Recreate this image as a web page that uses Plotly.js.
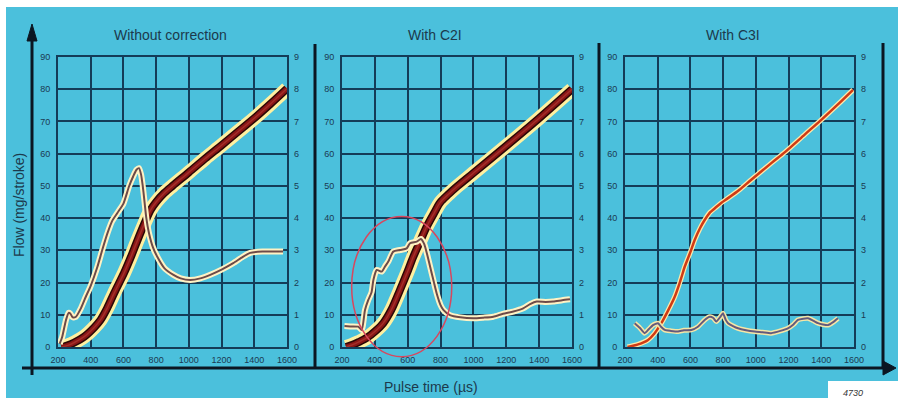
<!DOCTYPE html>
<html><head><meta charset="utf-8">
<script src="https://cdn.plot.ly/plotly-3.0.1.min.js"></script>
<style>html,body{margin:0;padding:0;background:#fff;}#chart{width:898px;height:402px;}</style>
</head><body><div id="chart"></div>
<script>
// ---- data ----
const panelTitles = ["Without correction", "With C2I", "With C3I"];
const xTicks = [200, 400, 600, 800, 1000, 1200, 1400, 1600];
const yLeftTicks = [0, 10, 20, 30, 40, 50, 60, 70, 80, 90];
const yRightTicks = [0, 1, 2, 3, 4, 5, 6, 7, 8, 9];

// Flow (mg/stroke), left axis
const flow1_t = [220,260,300,360,420,460,500,543,604,650,685,730,766,800,850,900,1000,1100,1200,1300,1400,1500,1600];
const flow1_v = [0,0.5,1.4,3.2,6,8.4,12,16.7,23,28.5,33,38.5,42.5,45,47.8,50,54.2,58.5,62.6,66.8,71,75.5,80.2];
const flow2_t = [225,260,300,350,400,451,500,553,600,634,680,716,760,797,850,900,1000,1200,1400,1600];
const flow2_v = [0,0.6,1.5,2.8,4.8,7.4,11.5,17.7,23.5,28,33.3,37.4,41.5,44.8,47.5,49.8,54,62.4,71,80];
const flow3_t = [215,280,341,380,422,460,504,540,565,600,626,660,687,720,748,790,830,900,972,1100,1176,1300,1400,1500,1594];
const flow3_v = [0,0.8,2.2,4.2,7.4,11,15.6,20.8,24.9,29.5,33.2,37,39.4,41.8,43,44.8,46.2,48.8,51.9,57.3,60.4,66,70.5,75.2,79.8];

// Dispersion, right axis (0..9)
const disp1_t = [210,225,249,265,275,290,310,340,370,400,441,470,503,530,563,600,634,660,680,695,708,718,727,740,756,780,807,850,906,950,1009,1070,1131,1200,1271,1330,1375,1450,1576];
const disp1_v = [0.1,0.3,0.84,1.06,1.04,0.92,0.94,1.2,1.56,1.9,2.49,3.0,3.54,3.9,4.16,4.45,4.98,5.3,5.5,5.55,5.35,5.0,4.6,4.0,3.54,3.1,2.8,2.45,2.24,2.13,2.08,2.13,2.24,2.4,2.6,2.8,2.92,2.96,2.96];
const disp2_t = [215,250,299,320,340,360,380,391,411,442,462,482,512,553,594,614,655,680,700,716,746,776,800,817,857,920,999,1060,1121,1180,1243,1303,1345,1385,1440,1486,1540,1588];
const disp2_v = [0.65,0.64,0.63,0.53,1.15,1.46,1.7,2.08,2.39,2.34,2.5,2.65,2.96,3.01,3.06,3.22,3.27,3.35,3.2,2.92,2.29,1.67,1.3,1.15,0.99,0.92,0.89,0.91,0.94,1.03,1.1,1.2,1.33,1.41,1.4,1.41,1.45,1.48];
const disp3_t = [259,290,320,345,371,402,420,443,480,524,560,605,646,687,718,740,758,785,799,815,830,860,891,940,993,1040,1094,1150,1196,1230,1257,1290,1319,1350,1380,1410,1441,1475,1502];
const disp3_v = [0.74,0.6,0.43,0.55,0.68,0.74,0.63,0.53,0.5,0.48,0.52,0.53,0.63,0.84,0.94,0.9,0.79,0.95,1.05,0.85,0.74,0.65,0.58,0.52,0.48,0.46,0.43,0.5,0.58,0.7,0.84,0.88,0.89,0.82,0.74,0.7,0.68,0.78,0.89];

// highlighted region in panel 2 (pulse time range, flow range)
const ellipseT = [259, 868];
const ellipseF = [-3, 40.5];

// ---- layout helpers ----
const W = 898, H = 402;
const PX = x => x / W, PY = y => 1 - y / H;
const xDom = [[58, 287], [342, 572], [625, 854]];
const yDom = [PY(347), PY(57)];
const gridC = '#143c58';
const tickFont = {family: 'Liberation Sans, Arial, sans-serif', size: 9, color: '#1b3a52'};
const titleFont = {family: 'Liberation Sans, Arial, sans-serif', size: 14, color: '#1c3a4c'};

const layout = {
  width: W, height: H, margin: {l: 0, r: 0, t: 0, b: 0},
  paper_bgcolor: '#ffffff', plot_bgcolor: 'rgba(0,0,0,0)',
  showlegend: false, shapes: [], annotations: []
};

// background panel
layout.shapes.push({type: 'rect', xref: 'paper', yref: 'paper', x0: PX(6), x1: 1, y0: PY(398), y1: PY(7),
  fillcolor: '#4bc0dc', line: {width: 0}, layer: 'below'});

for (let i = 0; i < 3; i++) {
  const xn = i === 0 ? 'xaxis' : 'xaxis' + (i + 1);
  const xid = i === 0 ? 'x' : 'x' + (i + 1);
  const yl = 2 * i + 1, yr = 2 * i + 2;
  const ylId = yl === 1 ? 'y' : 'y' + yl;
  const ylName = yl === 1 ? 'yaxis' : 'yaxis' + yl;
  layout[xn] = {domain: [PX(xDom[i][0]), PX(xDom[i][1])], range: [200, 1600], anchor: ylId,
    tickvals: xTicks, ticktext: xTicks.map(String), showgrid: true, gridcolor: gridC, gridwidth: 2,
    showline: true, mirror: true, linecolor: gridC, linewidth: 2, zeroline: false, ticks: '',
    tickfont: tickFont, ticklabelstandoff: 3, fixedrange: true};
  layout[ylName] = {domain: yDom, range: [0, 90], anchor: xid, tickvals: yLeftTicks,
    showgrid: true, gridcolor: gridC, gridwidth: 2, zeroline: false, ticks: '',
    showline: true, mirror: true, linecolor: gridC, linewidth: 2,
    tickfont: tickFont, ticklabelstandoff: 4, fixedrange: true};
  layout['yaxis' + yr] = {overlaying: ylId, side: 'right', anchor: xid, range: [0, 9], tickvals: yRightTicks,
    showgrid: false, zeroline: false, ticks: '', showline: false,
    tickfont: tickFont, ticklabelstandoff: 6, fixedrange: true};
  layout.annotations.push({text: panelTitles[i], xref: 'paper', yref: 'paper',
    x: PX([170, 435, 733][i]), y: PY(35), xanchor: 'center', yanchor: 'middle', showarrow: false,
    font: titleFont});
}

// axis titles
layout.annotations.push({text: 'Flow (mg/stroke)', xref: 'paper', yref: 'paper', x: PX(19), y: PY(205),
  xanchor: 'center', yanchor: 'middle', textangle: -90, showarrow: false, font: titleFont});
layout.annotations.push({text: 'Pulse time (µs)', xref: 'paper', yref: 'paper', x: PX(431), y: PY(387),
  xanchor: 'center', yanchor: 'middle', showarrow: false, font: titleFont});

// frame lines & arrows
const dark = '#0b1622';
const seg = (x0, y0, x1, y1, w) => ({type: 'line', xref: 'paper', yref: 'paper', x0: PX(x0), y0: PY(y0), x1: PX(x1), y1: PY(y1), line: {color: dark, width: w}});
layout.shapes.push(seg(32, 375, 32, 36, 3));
layout.shapes.push(seg(22, 368, 886, 368, 3));
layout.shapes.push(seg(315, 44, 315, 368, 3));
layout.shapes.push(seg(599, 43, 599, 368, 3));
layout.shapes.push(seg(883, 43, 883, 368, 3));
const tri = pts => ({type: 'path', xref: 'paper', yref: 'paper',
  path: 'M' + pts.map(p => PX(p[0]) + ',' + PY(p[1])).join('L') + 'Z', fillcolor: dark, line: {color: dark, width: 1}});
layout.shapes.push(tri([[32, 24], [27, 41], [37, 41]]));
layout.shapes.push(tri([[896, 368], [883, 361], [883, 375]]));

// label box
layout.shapes.push({type: 'rect', xref: 'paper', yref: 'paper', x0: PX(828), x1: 1, y0: 0, y1: PY(381),
  fillcolor: '#ffffff', line: {width: 0}});
layout.annotations.push({text: '<i>4730</i>', xref: 'paper', yref: 'paper', x: PX(853), y: PY(393),
  xanchor: 'center', yanchor: 'middle', showarrow: false,
  font: {family: 'Liberation Sans, Arial, sans-serif', size: 9, color: '#333'}});

// ellipse in panel 2 (flow mapped to paper through the axis domain)
const fToPaper = f => yDom[0] + (f / 90) * (yDom[1] - yDom[0]);
layout.shapes.push({type: 'circle', xref: 'x2', yref: 'paper', x0: ellipseT[0], x1: ellipseT[1],
  y0: fToPaper(ellipseF[0]), y1: fToPaper(ellipseF[1]), line: {color: '#d8475e', width: 1.5}, layer: 'above'});

// ---- traces ----
const traces = [];
const line = (t, v, xa, ya, color, width, sm) => ({x: t, y: v, xaxis: xa, yaxis: ya, type: 'scatter', mode: 'lines',
  line: {color: color, width: width, shape: 'spline', smoothing: sm}, hoverinfo: 'skip'});

function thin(t, v, xa, ya, lineC, haloC) {
  traces.push(line(t, v, xa, ya, haloC, 6, 0.6));
  traces.push(line(t, v, xa, ya, lineC, 2, 0.6));
}
function band(t, v, xa, ya) {
  traces.push(line(t, v, xa, ya, '#fff0a0', 14, 0.8));
  traces.push(line(t, v, xa, ya, '#2a0606', 8, 0.8));
  traces.push(line(t, v, xa, ya, '#8a1616', 5, 0.8));
  traces.push(line(t, v, xa, ya, '#a3302a', 1.5, 0.8));
}

thin(disp1_t, disp1_v, 'x', 'y2', '#6d4a48', '#fff2c4');
band(flow1_t, flow1_v, 'x', 'y');
thin(disp2_t, disp2_v, 'x2', 'y4', '#6d4a48', '#fff2c4');
band(flow2_t, flow2_v, 'x2', 'y3');
traces.push(line(flow3_t, flow3_v, 'x3', 'y5', '#ffe9a8', 5, 0.8));
traces.push(line(flow3_t, flow3_v, 'x3', 'y5', '#d03a14', 2.5, 0.8));
traces.push(line(disp3_t, disp3_v, 'x3', 'y6', '#f6e6a6', 5, 0.5));
traces.push(line(disp3_t, disp3_v, 'x3', 'y6', '#645a7c', 2, 0.5));

Plotly.newPlot('chart', traces, layout, {staticPlot: true, displayModeBar: false});
</script></body></html>
